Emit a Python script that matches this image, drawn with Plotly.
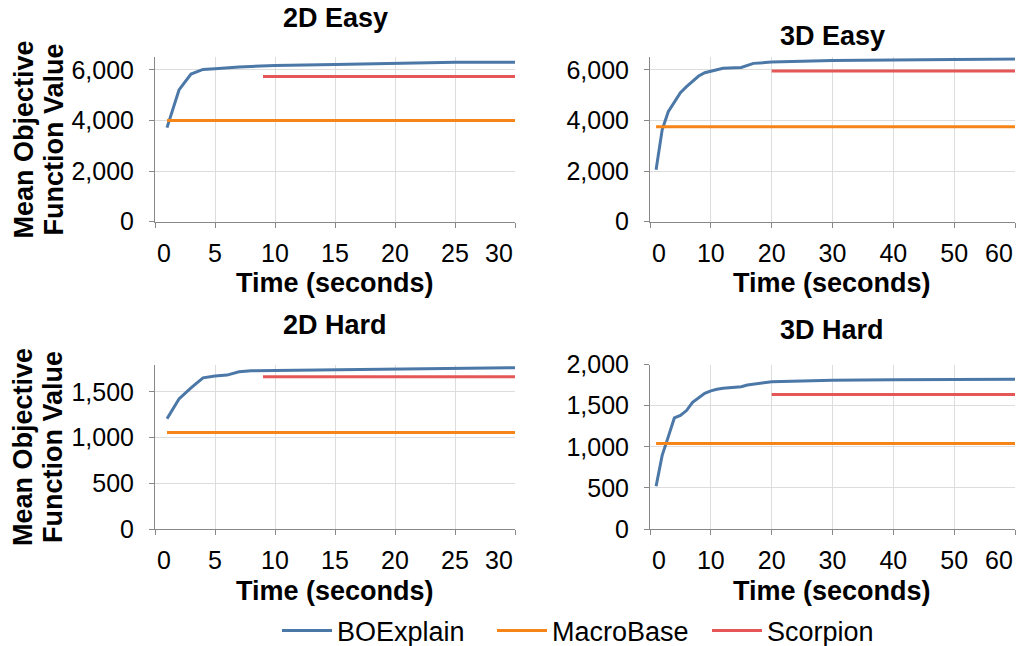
import plotly.graph_objects as go

W, H = 1020, 646
FONT = "Liberation Sans, Arial, Helvetica, sans-serif"
BLUE, ORANGE, RED = "#4c78a8", "#f58518", "#e45756"

panel_titles = ["2D Easy", "3D Easy", "2D Hard", "3D Hard"]

# ---- BOExplain (time in seconds, mean objective value) ----
boe_2de_t = [1, 2, 3, 4, 5, 6, 7, 8, 10, 15, 20, 25, 30]
boe_2de_v = [3720, 5210, 5840, 6020, 6050, 6090, 6120, 6140, 6180, 6220, 6260, 6300, 6300]

boe_3de_t = [1, 2, 3, 4, 5, 6, 7, 8, 9, 10, 12, 13, 15, 17, 20, 25, 30, 40, 60]
boe_3de_v = [2050, 3630, 4350, 4750, 5100, 5340, 5540, 5760, 5890, 5960, 6070, 6080, 6100,
             6260, 6310, 6340, 6370, 6390, 6430]

boe_2dh_t = [1, 2, 3, 4, 5, 6, 7, 8, 10, 15, 20, 25, 30]
boe_2dh_v = [1206, 1423, 1544, 1654, 1673, 1684, 1720, 1732, 1735, 1743, 1750, 1757, 1765]

boe_3dh_t = [1, 2, 3, 4, 5, 6, 7, 8, 9, 10, 11, 12, 15, 16, 20, 25, 30, 40, 60]
boe_3dh_v = [520, 895, 1120, 1350, 1380, 1440, 1540, 1590, 1650, 1680, 1700, 1710, 1730,
             1750, 1790, 1800, 1810, 1815, 1820]

# ---- MacroBase (constant) ----
mb_2de_t, mb_2de_v = [1, 30], [4000, 4000]
mb_3de_t, mb_3de_v = [1, 60], [3750, 3750]
mb_2dh_t, mb_2dh_v = [1, 30], [1055, 1055]
mb_3dh_t, mb_3dh_v = [1, 60], [1040, 1040]

# ---- Scorpion (constant, starts later) ----
sc_2de_t, sc_2de_v = [9, 30], [5740, 5740]
sc_3de_t, sc_3de_v = [20, 60], [5960, 5960]
sc_2dh_t, sc_2dh_v = [9, 30], [1665, 1665]
sc_3dh_t, sc_3dh_v = [20, 60], [1635, 1635]

x_ticks_30 = [0, 5, 10, 15, 20, 25, 30]
x_ticks_60 = [0, 10, 20, 30, 40, 50, 60]
y_max = [6500, 6500, 1800, 2000]
y_dtick = [2000, 2000, 500, 500]

series = [
    (boe_2de_t, boe_2de_v, mb_2de_t, mb_2de_v, sc_2de_t, sc_2de_v),
    (boe_3de_t, boe_3de_v, mb_3de_t, mb_3de_v, sc_3de_t, sc_3de_v),
    (boe_2dh_t, boe_2dh_v, mb_2dh_t, mb_2dh_v, sc_2dh_t, sc_2dh_v),
    (boe_3dh_t, boe_3dh_v, mb_3dh_t, mb_3dh_v, sc_3dh_t, sc_3dh_v),
]

fig = go.Figure()

# pixel layout of plot areas (left, right, top, bottom)
boxes = [(155, 515, 57.3, 221.7), (650, 1015, 57.3, 221.7),
         (155, 515, 364.5, 529), (650, 1015, 364.5, 529)]

annotations = []
TICKFONT = dict(family=FONT, size=25, color="#000")
XLAB_SHIFT = -31

for i, (bt, bv, mt, mv, st, sv) in enumerate(series):
    xa = "x" if i == 0 else f"x{i+1}"
    ya = "y" if i == 0 else f"y{i+1}"
    show = i == 0
    fig.add_trace(go.Scatter(x=bt, y=bv, mode="lines", name="BOExplain",
                             line=dict(color=BLUE, width=3), xaxis=xa, yaxis=ya,
                             showlegend=show, legendgroup="b"))
    fig.add_trace(go.Scatter(x=mt, y=mv, mode="lines", name="MacroBase",
                             line=dict(color=ORANGE, width=3), xaxis=xa, yaxis=ya,
                             showlegend=show, legendgroup="m"))
    fig.add_trace(go.Scatter(x=st, y=sv, mode="lines", name="Scorpion",
                             line=dict(color=RED, width=3), xaxis=xa, yaxis=ya,
                             showlegend=show, legendgroup="s"))

    l, r, t, b = boxes[i]
    ticks = x_ticks_30 if i % 2 == 0 else x_ticks_60
    xname = "xaxis" if i == 0 else f"xaxis{i+1}"
    yname = "yaxis" if i == 0 else f"yaxis{i+1}"
    common = dict(showline=True, linecolor="#888", linewidth=1, gridcolor="#ddd",
                  gridwidth=1, zeroline=False, ticks="outside", ticklen=5,
                  tickcolor="#888", tickfont=TICKFONT)
    # interior labels from the axis; end labels flushed to the axis ends
    ticktext = [""] + [str(v) for v in ticks[1:-1]] + [""]
    fig.layout[xname] = dict(domain=[l / W, r / W], anchor=ya, range=[0, ticks[-1]],
                             tickmode="array", tickvals=ticks, ticktext=ticktext,
                             ticklabelstandoff=4, **common)
    fig.layout[yname] = dict(domain=[1 - b / H, 1 - t / H], anchor=xa,
                             range=[0, y_max[i]], dtick=y_dtick[i], tick0=0,
                             tickformat=",d", ticklabelstandoff=10, **common)
    for val, anc in [(ticks[0], "left"), (ticks[-1], "right")]:
        annotations.append(dict(text=str(val), x=val, xref=xa, y=0, yref=f"{ya} domain",
                                xanchor=anc, yanchor="middle", yshift=XLAB_SHIFT,
                                showarrow=False, font=TICKFONT))

title_y = [18, 36, 325, 330]
title_x = [335, 832, 335, 832]
for i, name in enumerate(panel_titles):
    annotations.append(dict(text=f"<b>{name}</b>", x=title_x[i] / W, y=1 - title_y[i] / H,
                            xref="paper", yref="paper", showarrow=False,
                            xanchor="center", yanchor="middle",
                            font=dict(family=FONT, size=27, color="#000")))
xt_y = [283, 283, 591, 591]
for i in range(4):
    annotations.append(dict(text="<b>Time (seconds)</b>", x=title_x[i] / W,
                            y=1 - xt_y[i] / H, xref="paper", yref="paper",
                            showarrow=False, xanchor="center", yanchor="middle",
                            font=dict(family=FONT, size=27, color="#000")))
for yc in [139.5, 447]:
    for line, xc in [("Mean Objective", 23), ("Function Value", 53)]:
        annotations.append(dict(text=f"<b>{line}</b>", x=xc / W,
                                y=1 - yc / H, xref="paper", yref="paper", showarrow=False,
                                textangle=-90, xanchor="center", yanchor="middle",
                                font=dict(family=FONT, size=27, color="#000")))

fig.update_layout(
    width=W, height=H, margin=dict(l=0, r=0, t=0, b=0, autoexpand=False),
    paper_bgcolor="white", plot_bgcolor="white",
    annotations=annotations,
    legend=dict(orientation="h", x=277 / W, xanchor="left", y=1 - 631 / H,
                yanchor="middle", itemwidth=50, entrywidth=150, entrywidthmode="pixels",
                font=dict(family=FONT, size=27, color="#000"),
                bgcolor="rgba(0,0,0,0)"),
)

fig.write_html("out.html", config={"displayModeBar": False},
               post_script="document.body.style.margin='0';document.body.style.overflow='hidden';")
